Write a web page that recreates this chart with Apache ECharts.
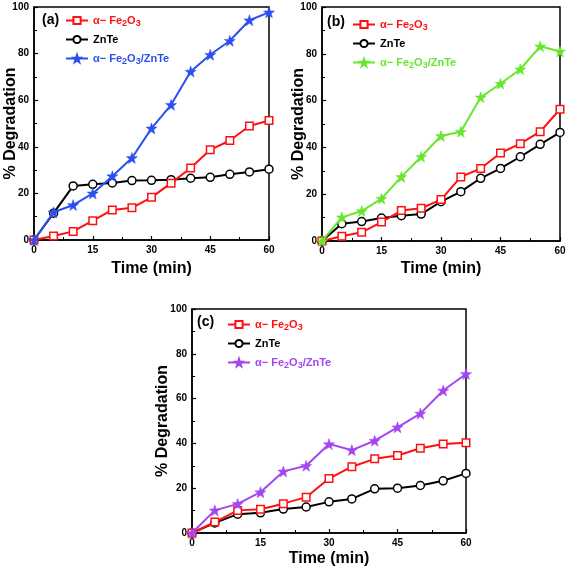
<!DOCTYPE html>
<html><head><meta charset="utf-8">
<script src="https://cdn.jsdelivr.net/npm/echarts@6/dist/echarts.min.js"></script>
<style>html,body{margin:0;padding:0;background:#fff}#c{width:567px;height:571px}</style>
</head><body><div id="c"></div>
<script>
const times = [0,5,10,15,20,25,30,35,40,45,50,55,60];
const xTicks = [0,15,30,45,60];
const yTicks = [0,20,40,60,80,100];
// panel (a)
const aFe2O3 = [0,1.7,3.7,8.3,12.9,13.8,18.3,24.4,30.9,38.7,42.7,48.9,51.3];
const aZnTe  = [0,11.5,23.2,23.9,24.5,25.5,25.6,25.9,26.5,26.9,28.2,29.2,30.4];
const aComp  = [0,11.9,15.0,20.0,27.4,35.2,47.9,58.0,72.3,79.5,85.5,94.3,97.7];
// panel (b)
const bFe2O3 = [0,2.0,3.7,8.1,13.0,14.0,17.7,27.4,31.0,37.6,41.6,46.7,56.3];
const bZnTe  = [0,7.4,8.3,9.8,10.8,11.5,16.8,21.1,26.8,31.0,36.0,41.3,46.4];
const bComp  = [0,10.1,12.8,18.1,27.4,36.0,44.9,46.7,61.4,67.2,73.4,83.2,81.0];
// panel (c)
const cFe2O3 = [0,4.9,10.1,10.6,13.1,16.0,24.3,29.6,33.1,34.6,37.8,39.7,40.3];
const cZnTe  = [0,4.5,8.4,9.0,10.7,11.6,13.9,15.2,19.7,20.0,21.2,23.3,26.6];
const cComp  = [0,10.1,13.0,18.2,27.5,30.0,39.7,37.0,41.2,47.2,53.3,63.6,71.0];
const panelLabels = ['(a)','(b)','(c)'];
const compColors = ['#2b4ff0','#66e62e','#a345f0'];

const RED = '#ff1010';
const STAR = 'path://M0,-10 L2.35,-3.24 L9.51,-3.09 L3.8,1.24 L5.88,8.09 L0,4 L-5.88,8.09 L-3.8,1.24 L-9.51,-3.09 L-2.35,-3.24 Z';
const FONT = 'Liberation Sans, Arial, sans-serif';

const grids = [
  {left:34, top:7, width:235, height:233},
  {left:322, top:7, width:238, height:234},
  {left:192, top:309, width:274, height:224}
];
const xNameGaps = [21, 20, 18];
const yNameGaps = [15, 15, 21];
const panels = [[aFe2O3,aZnTe,aComp],[bFe2O3,bZnTe,bComp],[cFe2O3,cZnTe,cComp]];
const legendPos = [{left:65, top:13},{left:352, top:17},{left:227, top:317}];
const labelPos = [[42,13],[327,15],[197,315]];

function axisCommon(){
  return {
    axisLine:{show:true, onZero:false, lineStyle:{color:'#000', width:1.5}},
    axisTick:{show:true, inside:true, length:4, lineStyle:{color:'#000', width:1.2}},
    minorTick:{show:true, splitNumber:2, length:3, lineStyle:{color:'#000', width:1}},
    splitLine:{show:false},
    axisLabel:{color:'#000', fontWeight:'bold', fontSize:10, fontFamily:FONT, margin:5},
    nameTextStyle:{color:'#000', fontWeight:'bold', fontSize:16, fontFamily:FONT},
    nameLocation:'middle',
    nameMoveOverlap:false
  };
}

const option = {animation:false, backgroundColor:'#fff', grid:[], xAxis:[], yAxis:[], series:[], legend:[], graphic:[]};
grids.forEach((g,i)=>{
  option.grid.push(Object.assign({show:true, borderColor:'#000', borderWidth:1.5, backgroundColor:'transparent', containLabel:false, outerBoundsMode:'none'}, g));
  option.xAxis.push(Object.assign(axisCommon(), {type:'value', gridIndex:i, min:0, max:60, interval:15, name:'Time (min)', nameGap:xNameGaps[i]}));
  option.yAxis.push(Object.assign(axisCommon(), {type:'value', gridIndex:i, min:0, max:100, interval:20, name:'% Degradation', nameGap:yNameGaps[i]}));
  const [fe, zn, comp] = panels[i];
  const mk = v => times.map((t,k)=>[t, v[k]]);
  const n1='fe'+i, n2='zn'+i, n3='co'+i;
  option.series.push({name:n1, type:'line', xAxisIndex:i, yAxisIndex:i, data:mk(fe), clip:false,
    symbol:'rect', symbolSize:7.5, lineStyle:{color:RED, width:2}, itemStyle:{color:'#fff', borderColor:RED, borderWidth:1.5}, z:3});
  option.series.push({name:n2, type:'line', xAxisIndex:i, yAxisIndex:i, data:mk(zn), clip:false,
    symbol:'circle', symbolSize:8, lineStyle:{color:'#000', width:2}, itemStyle:{color:'#fff', borderColor:'#000', borderWidth:1.5}, z:2});
  option.series.push({name:n3, type:'line', xAxisIndex:i, yAxisIndex:i, data:mk(comp), clip:false,
    symbol:STAR, symbolSize:11, lineStyle:{color:compColors[i], width:2}, itemStyle:{color:compColors[i], borderColor:compColors[i], borderWidth:0.5}, z:4});
  const cc = compColors[i];
  option.legend.push(Object.assign({
    orient:'vertical', data:[n1,n2,n3], itemWidth:22, itemHeight:9, itemGap:4, selectedMode:false, padding:0,
    textStyle:{fontFamily:FONT, fontSize:11, fontWeight:'bold', lineHeight:15,
      rich:{
        r:{color:RED, fontSize:11, fontWeight:'bold', fontFamily:FONT},
        rs:{color:RED, fontSize:9, fontWeight:'bold', fontFamily:FONT, padding:[6,0,0,0]},
        k:{color:'#000', fontSize:11, fontWeight:'bold', fontFamily:FONT},
        c:{color:cc, fontSize:11, fontWeight:'bold', fontFamily:FONT},
        cs:{color:cc, fontSize:9, fontWeight:'bold', fontFamily:FONT, padding:[6,0,0,0]}
      }},
    formatter: function(name){
      if(name.startsWith('fe')) return '{r|α− Fe}{rs|2}{r|O}{rs|3}';
      if(name.startsWith('zn')) return '{k|ZnTe}';
      return '{c|α− Fe}{cs|2}{c|O}{cs|3}{c|/ZnTe}';
    }
  }, legendPos[i]));
  option.graphic.push({type:'text', left:labelPos[i][0], top:labelPos[i][1],
    style:{text:panelLabels[i], font:'bold 14px '+FONT, fill:'#000'}});
});
const chart = echarts.init(document.getElementById('c'), null, {renderer:'canvas'});
chart.setOption(option);
</script></body></html>
